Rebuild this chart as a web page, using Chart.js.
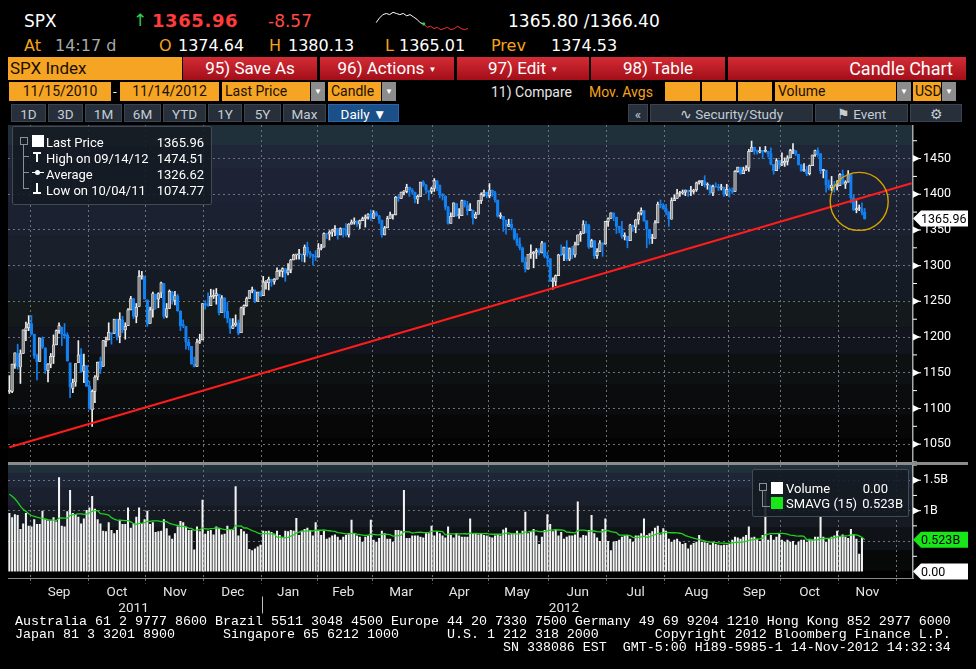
<!DOCTYPE html>
<html>
<head>
<meta charset="utf-8">
<script src="https://cdn.jsdelivr.net/npm/chart.js@4.4.0/dist/chart.umd.min.js"></script>
<style>
  body { margin: 0; width: 976px; height: 669px; background: #000; position: relative; overflow: hidden;
         font-family: Roboto, 'Liberation Sans', sans-serif; color: #fff; }
  .t { position: absolute; white-space: nowrap; line-height: 1; }
  .q { font-family: 'DejaVu Sans', sans-serif; }
  .org { color: #f5a31a; }
  .btnR { position: absolute; top: 57px; height: 23px; background: linear-gradient(#d52c36, #a20e18);
          color: #fff; font-size: 17px; line-height: 23px; text-align: center; white-space: nowrap; }
  .fld { position: absolute; top: 82px; height: 19px; background: #f6a423; color: #1b1000; font-size: 14px;
         line-height: 19px; white-space: nowrap; }
  .arr { position: absolute; top: 82px; height: 19px; width: 14px; background: #8c8c8c; color: #fff;
         font-size: 8px; line-height: 19px; text-align: center; }
  .b5 { position: absolute; top: 104px; height: 18px; background: #262f3a; color: #c4ccd4; font-size: 13.5px;
        line-height: 18px; text-align: center; border: 1px solid #3a4450; box-sizing: border-box; white-space: nowrap; }
  canvas { position: absolute; left: 0; }
  .leg { position: absolute; background: rgba(20, 26, 34, 0.88); border: 1px solid #434a53; border-radius: 2px;
         font-size: 13px; color: #fff; }
  .leg .row { position: absolute; white-space: nowrap; line-height: 15px; }
  .leg .val { position: absolute; text-align: right; line-height: 15px; }
  .ln { position: absolute; background: #8a9097; }
  pre { position: absolute; left: 15px; top: 615px; margin: 0; font-family: 'Liberation Mono', 'DejaVu Sans Mono', monospace;
        font-size: 13.33px; line-height: 13px; color: #fff; }
</style>
</head>
<body>

<!-- quote line -->
<div class="t q" style="left:24px;top:13px;font-size:17px">SPX</div>
<div class="t q" style="left:133px;top:12px;font-size:17px;color:#2fd04a">&#8593;</div>
<div class="t q" style="left:152px;top:12px;font-size:18px;font-weight:bold;color:#ff3c3c;letter-spacing:0.6px">1365.96</div>
<div class="t q" style="left:268px;top:13px;font-size:17px;color:#ff4a4a">-8.57</div>
<canvas id="spark" width="96" height="26" style="left:374px;top:8px"></canvas>
<div class="t q" style="left:508px;top:13px;font-size:17px">1365.80 /1366.40</div>

<div class="t q org" style="left:24px;top:38px;font-size:16px">At</div>
<div class="t q" style="left:55px;top:38px;font-size:16px;color:#a9a9a9">14:17 d</div>
<div class="t q org" style="left:159px;top:38px;font-size:16px">O</div>
<div class="t q" style="left:178px;top:38px;font-size:16px">1374.64</div>
<div class="t q org" style="left:269px;top:38px;font-size:16px">H</div>
<div class="t q" style="left:288px;top:38px;font-size:16px">1380.13</div>
<div class="t q org" style="left:385px;top:38px;font-size:16px">L</div>
<div class="t q" style="left:399px;top:38px;font-size:16px">1365.01</div>
<div class="t q org" style="left:491px;top:38px;font-size:16px">Prev</div>
<div class="t q" style="left:551px;top:38px;font-size:16px">1374.53</div>

<!-- function bar -->
<div class="fld" style="top:57px;height:23px;line-height:23px;left:8px;width:174px;font-size:17px;padding-left:2px;box-sizing:border-box">SPX Index</div>
<div class="btnR" style="left:183px;width:134px">95) Save As</div>
<div class="btnR" style="left:320px;width:134px">96) Actions <span style="font-size:8px;vertical-align:2px">&#9660;</span></div>
<div class="btnR" style="left:457px;width:132px">97) Edit <span style="font-size:8px;vertical-align:2px">&#9660;</span></div>
<div class="btnR" style="left:591px;width:134px">98) Table</div>
<div class="btnR" style="left:728px;width:238px;text-align:right;padding-right:13px;box-sizing:border-box;font-size:18px">Candle Chart</div>

<div class="fld" style="left:9px;width:102px;text-align:center">11/15/2010</div>
<div class="t" style="left:113px;top:85px;font-size:13px">-</div>
<div class="fld" style="left:120px;width:99px;text-align:center">11/14/2012</div>
<div class="fld" style="left:222px;width:88px;padding-left:3px;box-sizing:border-box">Last Price</div>
<div class="arr" style="left:311px">&#9660;</div>
<div class="fld" style="left:328px;width:53px;padding-left:3px;box-sizing:border-box">Candle</div>
<div class="arr" style="left:382px">&#9660;</div>
<div class="t" style="left:491px;top:85px;font-size:14px;color:#e6e6e6">11) Compare</div>
<div class="t org" style="left:589px;top:85px;font-size:14px">Mov. Avgs</div>
<div class="fld" style="left:665px;width:35px"></div>
<div class="fld" style="left:702px;width:34px"></div>
<div class="fld" style="left:738px;width:34px"></div>
<div class="fld" style="left:775px;width:121px;padding-left:3px;box-sizing:border-box">Volume</div>
<div class="arr" style="left:897px">&#9660;</div>
<div class="fld" style="left:913px;width:28px;padding-left:2px;box-sizing:border-box">USD</div>
<div class="arr" style="left:942px">&#9660;</div>

<div class="b5" style="left:11px;width:35px">1D</div>
<div class="b5" style="left:48px;width:35px">3D</div>
<div class="b5" style="left:85px;width:37px">1M</div>
<div class="b5" style="left:124px;width:37px">6M</div>
<div class="b5" style="left:163px;width:43px">YTD</div>
<div class="b5" style="left:208px;width:34px">1Y</div>
<div class="b5" style="left:244px;width:37px">5Y</div>
<div class="b5" style="left:283px;width:43px">Max</div>
<div class="b5" style="left:328px;width:71px;background:#1b4f88;color:#fff;border-color:#2a66a8">Daily &#9660;</div>
<div class="b5" style="left:628px;width:20px">&#171;</div>
<div class="b5" style="left:650px;width:163px">&#8767; Security/Study</div>
<div class="b5" style="left:815px;width:93px">&#9873; Event</div>
<div class="b5" style="left:910px;width:52px">&#9881;</div>

<canvas id="price" width="976" height="337" style="top:125px"></canvas>
<div style="position:absolute;left:8px;top:462px;width:960px;height:3px;background:#8b8b8b"></div>
<canvas id="volume" width="976" height="150" style="top:465px"></canvas>

<!-- price legend -->
<div class="leg" style="left:12px;top:126px;width:198px;height:77px">
  <div style="position:absolute;left:7px;top:10px;width:6px;height:6px;border:1px solid #8a9097"></div>
  <div class="ln" style="left:10px;top:18px;width:1px;height:44px"></div>
  <div class="ln" style="left:10px;top:29px;width:6px;height:1px"></div>
  <div class="ln" style="left:10px;top:45px;width:6px;height:1px"></div>
  <div class="ln" style="left:10px;top:61px;width:6px;height:1px"></div>
  <div style="position:absolute;left:19px;top:8px;width:12px;height:12px;background:#fff"></div>
  <div style="position:absolute;left:20px;top:25px;width:8px;height:2px;background:#fff"></div>
  <div style="position:absolute;left:23px;top:25px;width:2px;height:10px;background:#fff"></div>
  <div style="position:absolute;left:19px;top:45px;width:12px;height:1px;background:#fff"></div>
  <div style="position:absolute;left:22px;top:43px;width:5px;height:5px;border-radius:3px;background:#fff"></div>
  <div style="position:absolute;left:23px;top:56px;width:2px;height:10px;background:#fff"></div>
  <div style="position:absolute;left:20px;top:65px;width:8px;height:2px;background:#fff"></div>
  <div class="row" style="left:33px;top:8px">Last Price</div>
  <div class="row" style="left:33px;top:24px" id="lgHigh">High</div>
  <div class="row" style="left:33px;top:40px">Average</div>
  <div class="row" style="left:33px;top:56px" id="lgLow">Low</div>
  <div class="val" style="right:7px;top:8px" id="lgLast"></div>
  <div class="val" style="right:7px;top:24px" id="lgHighV"></div>
  <div class="val" style="right:7px;top:40px" id="lgAvg"></div>
  <div class="val" style="right:7px;top:56px" id="lgLowV"></div>
</div>

<!-- volume legend -->
<div class="leg" style="left:752px;top:469px;width:155px;height:46px">
  <div style="position:absolute;left:6px;top:13px;width:6px;height:6px;border:1px solid #8a9097"></div>
  <div class="ln" style="left:9px;top:21px;width:1px;height:15px"></div>
  <div class="ln" style="left:9px;top:36px;width:8px;height:1px"></div>
  <div style="position:absolute;left:18px;top:12px;width:12px;height:12px;background:#fff"></div>
  <div style="position:absolute;left:18px;top:27px;width:12px;height:12px;background:#19e619"></div>
  <div class="row" style="left:33px;top:11px">Volume</div>
  <div class="row" style="left:33px;top:26px">SMAVG (15)</div>
  <div class="val" style="right:20px;top:11px" id="lgVol"></div>
  <div class="val" style="right:5px;top:26px" id="lgSma"></div>
</div>

<pre>Australia 61 2 9777 8600 Brazil 5511 3048 4500 Europe 44 20 7330 7500 Germany 49 69 9204 1210 Hong Kong 852 2977 6000
Japan 81 3 3201 8900      Singapore 65 6212 1000      U.S. 1 212 318 2000       Copyright 2012 Bloomberg Finance L.P.
                                                             SN 338086 EST  GMT-5:00 H189-5985-1 14-Nov-2012 14:32:34</pre>

<script>
// trading calendar of the visible window
const firstDay = '2011-08-22';
const lastAxisDay = '2012-12-10';
const holidays = ['2011-09-05', '2011-11-24', '2011-12-26', '2012-01-02', '2012-01-16', '2012-02-20',
  '2012-04-06', '2012-05-28', '2012-07-04', '2012-09-03', '2012-10-29', '2012-10-30', '2012-11-22'];
const monthNames = ['Jan', 'Feb', 'Mar', 'Apr', 'May', 'Jun', 'Jul', 'Aug', 'Sep', 'Oct', 'Nov', 'Dec'];

// daily OHLC, 22 Aug 2011 .. 14 Nov 2012 (one line per month)
const opens = [
  1124,1124,1162,1177,1158,1177,1209,1213,
  1219,1204,1174,1166,1198,1185,1153,1162,1173,1189,1209,1214,1204,1203,1164,1128,1137,1164,1176,1152,1160,
  1131,1098,1124,1144,1166,1159,1194,1196,1206,1205,1225,1201,1224,1210,1216,1238,1254,1229,1243,1285,1285,
  1252,1219,1238,1260,1253,1262,1275,1229,1240,1263,1251,1257,1236,1217,1215,1193,1187,1162,1159,1193,1196,
  1247,1247,1244,1257,1258,1260,1234,1255,1236,1226,1212,1217,1220,1206,1241,1244,1254,1265,1265,1250,1263,
  1258,1277,1276,1281,1278,1281,1292,1292,1296,1290,1294,1308,1315,1315,1316,1315,1326,1318,1316,1313,
  1312,1324,1326,1345,1344,1347,1350,1352,1343,1352,1351,1343,1358,1361,1362,1358,1363,1366,1368,1372,
  1366,1374,1370,1364,1343,1353,1366,1371,1371,1396,1394,1403,1404,1410,1406,1403,1393,1397,1417,1413,1405,1404,
  1408,1419,1413,1399,1397,1382,1359,1369,1387,1370,1370,1391,1385,1377,1378,1367,1372,1391,1400,1403,
  1398,1406,1402,1392,1369,1369,1364,1355,1358,1352,1338,1331,1325,1305,1295,1316,1317,1319,1321,1318,1332,1313,
  1310,1278,1278,1286,1316,1315,1326,1309,1324,1315,1329,1343,1345,1358,1356,1326,1335,1314,1320,1332,1330,
  1362,1366,1374,1368,1355,1352,1341,1341,1335,1357,1354,1364,1373,1377,1363,1351,1338,1338,1360,1386,1385,
  1380,1375,1365,1391,1394,1401,1402,1403,1406,1404,1404,1406,1416,1418,1418,1413,1413,1402,1411,1410,1409,1410,1400,
  1407,1405,1404,1432,1438,1429,1434,1437,1460,1466,1461,1459,1461,1460,1460,1457,1442,1433,1447,
  1441,1444,1446,1451,1461,1461,1456,1441,1433,1433,1429,1440,1455,1461,1457,1433,1434,1413,1409,1413,1411,
  1412,1428,1414,1417,1428,1395,1378,1380,1380,1374.64
];
const highs = [
  1146,1162,1178,1190,1182,1210,1221,1230,
  1230,1204,1176,1198,1200,1185,1163,1177,1203,1210,1220,1214,1219,1206,1164,1141,1163,1195,1184,1176,1160,
  1138,1126,1146,1165,1172,1195,1200,1220,1206,1225,1225,1234,1229,1220,1240,1257,1254,1247,1293,1292,1285,
  1252,1242,1263,1260,1262,1277,1275,1247,1266,1264,1264,1260,1237,1224,1215,1197,1187,1172,1197,1204,1247,
  1251,1262,1267,1266,1268,1260,1258,1255,1249,1226,1226,1231,1224,1242,1245,1256,1265,1270,1266,1263,1264,
  1285,1279,1284,1281,1282,1297,1294,1297,1296,1303,1309,1316,1315,1323,1316,1329,1333,1320,1316,1321,
  1331,1330,1346,1345,1349,1351,1356,1352,1353,1352,1359,1359,1364,1367,1363,1364,1368,1371,1373,1378,
  1377,1376,1370,1364,1355,1369,1375,1372,1397,1399,1403,1405,1414,1410,1408,1403,1399,1417,1419,1414,1405,1410,
  1422,1419,1413,1401,1398,1383,1374,1388,1387,1380,1392,1391,1390,1387,1378,1375,1391,1402,1406,1403,
  1415,1406,1404,1392,1374,1369,1364,1365,1365,1352,1345,1339,1326,1312,1316,1329,1320,1324,1324,1334,1332,1319,
  1310,1283,1287,1316,1329,1326,1335,1325,1327,1333,1343,1348,1363,1362,1358,1337,1335,1324,1335,1332,1362,
  1367,1374,1374,1368,1355,1362,1346,1341,1358,1357,1365,1375,1381,1377,1363,1351,1344,1363,1389,1392,1387,
  1386,1376,1395,1399,1407,1404,1406,1406,1406,1411,1407,1417,1419,1418,1426,1416,1413,1413,1416,1414,1414,1410,1414,
  1409,1409,1433,1438,1438,1438,1440,1463,1474.51,1466,1462,1466,1461,1467,1460,1465,1442,1450,1447,
  1458,1451,1454,1463,1471,1461,1456,1442,1443,1439,1441,1455,1462,1465,1457,1435,1434,1420,1425,1418,1419,
  1429,1434,1419,1433,1428,1399,1391,1385,1388,1380.13
];
const lows = [
  1121,1122,1156,1155,1135,1177,1195,1209,
  1203,1170,1140,1166,1184,1149,1137,1157,1163,1189,1205,1188,1198,1166,1115,1122,1131,1164,1150,1136,1131,
  1099,1074.77,1108,1140,1149,1159,1187,1196,1190,1205,1196,1192,1206,1197,1216,1238,1226,1220,1243,1281,1253,
  1215,1219,1228,1239,1241,1255,1226,1227,1240,1246,1245,1236,1209,1213,1183,1182,1162,1158,1159,1191,1196,
  1239,1243,1244,1254,1246,1231,1234,1227,1220,1205,1212,1215,1203,1206,1231,1243,1254,1262,1248,1250,1257,
  1258,1267,1266,1271,1274,1281,1285,1284,1278,1287,1290,1308,1309,1309,1306,1305,1313,1311,1301,1307,
  1312,1322,1326,1338,1336,1341,1342,1337,1343,1340,1341,1340,1358,1358,1355,1352,1363,1354,1365,1363,
  1366,1369,1359,1340,1343,1353,1366,1365,1371,1390,1394,1399,1402,1397,1400,1388,1387,1397,1411,1401,1392,1401,
  1404,1405,1395,1392,1378,1358,1359,1369,1369,1366,1370,1382,1371,1377,1358,1366,1372,1387,1397,1395,
  1395,1397,1389,1368,1366,1348,1344,1355,1350,1336,1328,1322,1305,1291,1295,1310,1297,1310,1315,1318,1311,1299,
  1278,1267,1272,1286,1314,1307,1307,1307,1310,1312,1329,1334,1345,1346,1324,1326,1310,1310,1320,1313,1330,
  1355,1366,1363,1345,1346,1338,1336,1325,1335,1348,1346,1358,1371,1362,1325,1330,1331,1338,1360,1381,1379,
  1371,1355,1365,1391,1394,1397,1400,1398,1397,1398,1401,1404,1414,1412,1410,1407,1400,1398,1410,1405,1406,1397,1398,
  1396,1401,1404,1431,1428,1429,1433,1432,1460,1456,1456,1458,1450,1459,1452,1441,1428,1433,1436,
  1440,1439,1441,1451,1457,1454,1441,1432,1432,1426,1427,1440,1453,1452,1429,1423,1403,1406,1405,1403,1406,
  1412,1414,1408,1417,1388,1377,1374,1377,1371,1365.01
];
const closes = [
  1124,1162,1178,1159,1177,1210,1213,1219,
  1204,1174,1165,1199,1186,1154,1162,1173,1189,1209,1216,1204,1202,1167,1130,1136,1163,1175,1151,1160,1131,
  1099,1124,1144,1165,1155,1195,1196,1207,1204,1225,1201,1225,1210,1215,1238,1254,1229,1242,1285,1285,1253,
  1218,1238,1261,1253,1261,1276,1229,1240,1264,1252,1258,1237,1216,1216,1193,1188,1162,1159,1193,1195,1247,
  1245,1244,1257,1258,1261,1234,1255,1236,1226,1212,1216,1220,1205,1241,1244,1254,1265,1265,1250,1263,1258,
  1277,1277,1281,1278,1281,1292,1292,1296,1289,1294,1308,1315,1315,1316,1315,1326,1318,1316,1313,1312,
  1324,1326,1345,1344,1347,1350,1352,1343,1352,1351,1343,1358,1361,1362,1358,1363,1366,1368,1372,1366,
  1374,1370,1364,1343,1353,1366,1371,1371,1396,1394,1403,1404,1410,1406,1403,1393,1397,1417,1413,1406,1403,1408,
  1419,1413,1399,1398,1382,1359,1369,1388,1370,1370,1391,1385,1377,1379,1367,1372,1391,1400,1403,1398,
  1406,1402,1392,1369,1370,1364,1355,1358,1353,1338,1331,1325,1305,1295,1316,1317,1319,1321,1318,1332,1313,1310,
  1278,1278,1286,1315,1315,1326,1309,1324,1315,1329,1343,1345,1358,1356,1326,1335,1314,1320,1332,1329,1362,
  1366,1374,1368,1355,1352,1341,1341,1335,1357,1354,1364,1373,1377,1363,1351,1338,1338,1360,1386,1385,1379,
  1375,1365,1391,1394,1401,1402,1403,1406,1404,1404,1406,1416,1418,1418,1413,1413,1402,1411,1410,1409,1410,1399,1407,
  1405,1403,1432,1438,1429,1434,1437,1460,1466,1461,1459,1461,1460,1460,1457,1442,1433,1447,1441,
  1444,1446,1451,1461,1461,1456,1441,1433,1433,1429,1440,1455,1461,1457,1433,1434,1413,1409,1413,1412,1412,
  1428,1414,1417,1428,1395,1378,1380,1380,1374.53,1365.96
];

// volume in billions, same days; volumeBefore = the 14 sessions ahead of the window (feeds the 15d average)
const volumeBefore = [1.40,1.55,1.75,1.70,1.60,1.45,1.35,1.16,1.05,1.00,0.95,1.10,1.04,1.00];
const volumes = [
  0.96,0.89,0.94,0.93,0.70,0.79,0.96,0.75,
  0.74,0.86,0.78,0.78,1.00,0.86,0.84,0.84,0.89,0.82,1.55,0.75,0.74,0.99,1.34,0.96,0.94,0.90,0.79,0.87,1.01,
  1.05,1.24,1.03,0.86,0.79,0.67,0.66,0.81,0.68,0.63,0.68,0.85,0.78,0.78,1.05,0.72,0.79,0.90,1.05,0.79,0.86,
  1.00,0.78,0.81,0.65,0.66,0.67,0.86,0.71,0.59,0.54,0.63,0.74,0.83,0.81,0.74,0.68,0.68,0.36,0.74,0.66,1.18,
  0.62,0.67,0.68,0.61,0.74,0.71,0.61,0.62,0.75,0.68,0.68,1.40,0.59,0.70,0.66,0.62,0.37,0.35,0.38,0.41,0.44,
  0.67,0.66,0.67,0.65,0.62,0.67,0.60,0.57,0.67,0.66,0.68,0.67,0.88,0.60,0.67,0.70,0.72,0.68,0.59,0.81,
  0.67,0.60,0.67,0.54,0.56,0.59,0.61,0.57,0.52,0.57,0.60,0.63,0.85,0.63,0.59,0.57,0.49,0.57,0.59,0.85,
  0.52,0.49,0.55,0.67,0.63,0.54,0.54,0.49,0.68,0.68,0.67,1.34,0.55,0.55,0.59,0.59,0.59,0.57,0.56,0.63,0.63,0.75,
  0.59,0.66,0.63,0.59,0.56,0.74,0.60,0.56,0.63,0.59,0.57,0.57,0.57,0.87,0.63,0.63,0.61,0.63,0.60,0.59,
  0.57,0.56,0.59,0.60,0.59,0.69,0.72,0.61,0.63,0.63,0.67,0.63,0.67,0.98,0.63,0.66,0.70,0.59,0.45,0.57,0.68,0.94,
  0.78,0.66,0.70,0.59,0.65,0.54,0.57,0.59,0.59,0.61,1.15,0.56,0.60,0.59,0.68,0.93,0.63,0.56,0.50,0.70,0.87,
  0.50,0.35,0.49,0.50,0.52,0.57,0.59,0.60,0.54,0.49,0.59,0.59,0.63,0.87,0.60,0.63,0.66,0.72,0.75,0.61,0.71,
  0.67,0.54,0.49,0.52,0.54,0.49,0.45,0.47,0.38,0.44,0.47,0.49,0.60,0.49,0.48,0.47,0.44,0.48,0.45,0.44,0.43,0.44,0.44,
  0.45,0.52,0.57,0.56,0.54,0.57,0.60,0.74,0.56,0.57,0.54,0.50,0.60,1.35,0.52,0.60,0.52,0.57,0.63,
  0.52,0.49,0.52,0.49,0.50,0.44,0.49,0.52,0.52,0.49,0.54,0.52,0.57,0.57,0.90,0.57,0.49,0.55,0.57,0.59,0.67,
  0.57,0.61,0.57,0.55,0.70,0.60,0.54,0.29,0.55,0
];

const averagePrice = 1326.62;          // 2y average, from the legend
const trendLine = [1045.6, 1415.4];     // red support line at the first and last axis day
const circleAt = {date: '2012-11-12', price: 1390};

// intraday sparkline in the quote line
const sparkPrices = [1371,1375,1378,1379,1378,1380,1379,1378,1379,1377,1378,1376,1374,1371,1370,
  1367,1368,1366,1367,1365,1366,1367,1365,1366,1368,1366,1365,1366];
const sparkSplit = 14;

const priceTicks = {min: 1025, max: 1497, step: 25, labelEvery: 50};
const volumeTicks = {min: -0.115, max: 1.75, step: 0.25};

// ---------------------------------------------------------------------------

function tradingDays(from, to, skip) {
  const out = [];
  const d = new Date(from + 'T12:00:00Z');
  const end = new Date(to + 'T12:00:00Z');
  while (d <= end) {
    const wd = d.getUTCDay();
    const iso = d.toISOString().slice(0, 10);
    if (wd !== 0 && wd !== 6 && !skip.includes(iso)) out.push(iso);
    d.setUTCDate(d.getUTCDate() + 1);
  }
  return out;
}

const dates = tradingDays(firstDay, lastAxisDay, holidays);
const N = closes.length;

const monthStart = dates.map((d, i) => i > 0 && d.slice(0, 7) !== dates[i - 1].slice(0, 7));

// x tick labels: month name mid-month, year mid-way through its data
const xTickLabels = dates.map(() => '');
const groups = {};
dates.forEach((d, i) => { (groups[d.slice(0, 7)] = groups[d.slice(0, 7)] || []).push(i); });
Object.entries(groups).forEach(([key, idx]) => {
  if (idx.length < 10) return;
  const mid = Math.floor((idx[0] + idx[idx.length - 1]) / 2);
  xTickLabels[mid] = [monthNames[+key.slice(5, 7) - 1]];
});
const years = {};
dates.slice(0, N).forEach((d, i) => { (years[d.slice(0, 4)] = years[d.slice(0, 4)] || []).push(i); });
Object.entries(years).forEach(([y, idx]) => {
  const mid = Math.floor((idx[0] + idx[idx.length - 1]) / 2);
  xTickLabels[mid] = ['', y];
});

const sma = volumes.map((v, i) => {
  const all = volumeBefore.concat(volumes);
  const end = i + volumeBefore.length;
  let s = 0;
  for (let k = end - 14; k <= end; k++) s += all[k];
  return s / 15;
});

function fmtDate(iso) {
  return iso.slice(5, 7) + '/' + iso.slice(8, 10) + '/' + iso.slice(2, 4);
}

// legends
const hiIdx = highs.indexOf(Math.max(...highs));
const loIdx = lows.indexOf(Math.min(...lows));
document.getElementById('lgLast').textContent = closes[N - 1].toFixed(2);
document.getElementById('lgHigh').textContent = 'High on ' + fmtDate(dates[hiIdx]);
document.getElementById('lgHighV').textContent = highs[hiIdx].toFixed(2);
document.getElementById('lgAvg').textContent = averagePrice.toFixed(2);
document.getElementById('lgLow').textContent = 'Low on ' + fmtDate(dates[loIdx]);
document.getElementById('lgLowV').textContent = lows[loIdx].toFixed(2);
document.getElementById('lgVol').textContent = volumes[N - 1].toFixed(2);
document.getElementById('lgSma').textContent = sma[N - 1].toFixed(3) + 'B';

Chart.defaults.font.family = 'Roboto, "Liberation Sans", sans-serif';

const UP_FILL = '#8e8e8e';
const UP_EDGE = '#f4f4f4';
const DOWN = '#1380f0';
const GRID = '#6c7378';

const monthLine = ctx => (monthStart[ctx.index] ? GRID : 'transparent');
const noPad = s => { s.paddingTop = 0; s.paddingBottom = 0; };

const bands = {
  id: 'bands',
  beforeDraw(chart, args, opts) {
    const {ctx, chartArea: a} = chart;
    const h = a.bottom - a.top;
    ctx.save();
    opts.colors.forEach((c, i) => {
      ctx.fillStyle = c;
      const y0 = a.top + h * opts.stops[i];
      const y1 = a.top + h * opts.stops[i + 1];
      ctx.fillRect(a.left, y0, a.right - a.left, y1 - y0 + 0.5);
    });
    ctx.restore();
  }
};

function marker(ctx, x, y) {
  ctx.beginPath();
  ctx.moveTo(x, y - 3.5);
  ctx.lineTo(x + 7, y);
  ctx.lineTo(x, y + 3.5);
  ctx.closePath();
  ctx.fill();
  ctx.fillRect(x, y - 0.5, 8, 1);
}

function tag(ctx, x, y, text, fill) {
  ctx.save();
  ctx.fillStyle = fill;
  ctx.beginPath();
  ctx.moveTo(x, y);
  ctx.lineTo(x + 8, y - 8);
  ctx.lineTo(x + 55, y - 8);
  ctx.lineTo(x + 55, y + 8);
  ctx.lineTo(x + 8, y + 8);
  ctx.closePath();
  ctx.fill();
  ctx.fillStyle = '#000';
  ctx.font = '12.5px Roboto, "Liberation Sans", sans-serif';
  ctx.textBaseline = 'middle';
  ctx.fillText(text, x + 8, y + 1);
  ctx.restore();
}

const priceAxisDecor = {
  id: 'priceAxisDecor',
  afterDraw(chart) {
    const {ctx, chartArea: a, scales: {x, y}} = chart;
    ctx.save();
    ctx.fillStyle = '#a4a9ae';
    ctx.fillRect(a.right - 1, a.top, 1.5, a.bottom - a.top);
    ctx.fillStyle = '#fff';
    y.ticks.forEach(t => {
      if (t.value % priceTicks.step !== 0) return;
      const py = y.getPixelForValue(t.value);
      if (t.value % priceTicks.labelEvery === 0) marker(ctx, a.right, py);
      else ctx.fillRect(a.right, py - 0.5, 4, 1);
    });
    // highlight circle
    ctx.strokeStyle = '#d8a300';
    ctx.lineWidth = 1.4;
    ctx.beginPath();
    ctx.arc(x.getPixelForValue(dates.indexOf(circleAt.date)), y.getPixelForValue(circleAt.price), 29, 0, Math.PI * 2);
    ctx.stroke();
    ctx.restore();
    tag(ctx, a.right, y.getPixelForValue(closes[N - 1]), closes[N - 1].toFixed(2), '#ffffff');
  }
};

const volumeAxisDecor = {
  id: 'volumeAxisDecor',
  afterDraw(chart) {
    const {ctx, chartArea: a, scales: {x, y}} = chart;
    ctx.save();
    ctx.fillStyle = '#a4a9ae';
    ctx.fillRect(a.right - 1, a.top, 1.5, a.bottom - a.top);
    ctx.fillStyle = '#fff';
    y.ticks.forEach(t => {
      const v = Math.round(t.value * 100) / 100;
      if (v <= 0 || v * 4 % 1 !== 0) return;
      const py = y.getPixelForValue(v);
      if (v === 1 || v === 1.5) marker(ctx, a.right, py);
      else if (v !== 0.5) ctx.fillRect(a.right, py - 0.5, 4, 1);
    });
    // year separator under the axis
    const jan = dates.findIndex((d, i) => i > 0 && d.slice(0, 4) !== dates[i - 1].slice(0, 4));
    const sx = (x.getPixelForValue(jan - 1) + x.getPixelForValue(jan)) / 2;
    ctx.fillStyle = '#bdbdbd';
    ctx.fillRect(Math.round(sx), a.bottom + 18, 1, 17);
    ctx.restore();
    tag(ctx, a.right, y.getPixelForValue(sma[N - 1]), sma[N - 1].toFixed(3) + 'B', '#19e619');
    tag(ctx, a.right, y.getPixelForValue(volumes[N - 1]), volumes[N - 1].toFixed(2), '#ffffff');
  }
};

const wickData = dates.map((d, i) => (i < N ? [lows[i], highs[i]] : null));
const bodyData = dates.map((d, i) => (i < N ? [opens[i], closes[i]] : null));
const down = i => i < N && closes[i] < opens[i];

new Chart(document.getElementById('price'), {
  type: 'bar',
  data: {
    labels: dates,
    datasets: [
      {
        type: 'line',
        data: [{x: dates[0], y: trendLine[0]}, {x: dates[dates.length - 1], y: trendLine[1]}],
        borderColor: '#ff1c1c',
        borderWidth: 2,
        pointRadius: 0,
        order: 0
      },
      {
        data: bodyData,
        grouped: false,
        barThickness: 2.7,
        minBarLength: 1,
        backgroundColor: ctx => (down(ctx.dataIndex) ? DOWN : UP_FILL),
        borderColor: ctx => (down(ctx.dataIndex) ? DOWN : UP_EDGE),
        borderWidth: 0.7,
        borderSkipped: false,
        order: 1
      },
      {
        data: wickData,
        grouped: false,
        barThickness: 1,
        backgroundColor: ctx => (down(ctx.dataIndex) ? DOWN : '#f0f0f0'),
        order: 2
      }
    ]
  },
  options: {
    responsive: false,
    animation: false,
    devicePixelRatio: 1,
    layout: {padding: {left: 8, right: 0, top: 0, bottom: 0}},
    plugins: {
      legend: {display: false},
      tooltip: {enabled: false},
      bands: {
        stops: [0, 0.06, 0.13, 0.23, 0.33, 0.43, 0.52, 0.6, 0.68, 0.77, 0.86, 0.93, 1],
        colors: ['#20303a', '#1f2638', '#1d2334', '#1b2130', '#19202b', '#151b25', '#141a1b', '#12151e',
          '#0e1112', '#0b0c0e', '#070707', '#030303']
      }
    },
    scales: {
      x: {
        afterFit: s => { s.height = 0; },
        ticks: {display: false},
        grid: {color: monthLine, drawTicks: false, offset: true, lineWidth: 1},
        border: {display: false, dash: [2, 3]}
      },
      y: {
        position: 'right',
        min: priceTicks.min,
        max: priceTicks.max,
        afterFit: s => { s.width = 63; noPad(s); },
        ticks: {
          stepSize: priceTicks.step,
          autoSkip: false,
          color: '#ffffff',
          padding: 10,
          font: {size: 12.5},
          callback: v => (v % priceTicks.labelEvery === 0 ? String(v) : '')
        },
        grid: {
          color: ctx => (ctx.tick && ctx.tick.value % priceTicks.labelEvery === 0 ? GRID : 'transparent'),
          drawTicks: false
        },
        border: {display: false, dash: [2, 3]}
      }
    }
  },
  plugins: [bands, priceAxisDecor]
});

new Chart(document.getElementById('volume'), {
  type: 'bar',
  data: {
    labels: dates,
    datasets: [
      {
        type: 'line',
        data: sma,
        borderColor: '#1fd21f',
        borderWidth: 1.3,
        pointRadius: 0,
        order: 0
      },
      {
        data: volumes,
        backgroundColor: '#f4f4f4',
        barPercentage: 0.74,
        categoryPercentage: 1,
        order: 1
      }
    ]
  },
  options: {
    responsive: false,
    animation: false,
    devicePixelRatio: 1,
    layout: {padding: {left: 8, right: 0, top: 0, bottom: 0}},
    plugins: {
      legend: {display: false},
      tooltip: {enabled: false},
      bands: {
        stops: [0, 0.07, 0.2, 0.36, 0.55, 0.75, 0.93, 1],
        colors: ['#20303a', '#1e2537', '#1a202d', '#151a23', '#0f1216', '#070808', '#000000']
      }
    },
    scales: {
      x: {
        afterFit: s => { s.height = 36.5; },
        ticks: {
          autoSkip: false,
          maxRotation: 0,
          color: '#e4e4e4',
          padding: 1,
          font: {size: 13.5, lineHeight: 1.2},
          callback: (v, i) => xTickLabels[i]
        },
        grid: {color: monthLine, tickColor: monthLine, tickLength: 5, offset: true, tickBorderDash: [2, 2]},
        border: {display: true, color: '#8a8a8a', width: 1, dash: [2, 3]}
      },
      y: {
        position: 'right',
        min: volumeTicks.min,
        max: volumeTicks.max,
        afterFit: s => { s.width = 63; noPad(s); },
        ticks: {
          stepSize: volumeTicks.step,
          autoSkip: false,
          color: '#ffffff',
          padding: 10,
          font: {size: 12.5},
          callback: v => (Math.abs(v - 1.5) < 1e-6 ? '1.5B' : Math.abs(v - 1) < 1e-6 ? '1B' : '')
        },
        grid: {
          color: ctx => {
            const v = ctx.tick ? ctx.tick.value : -1;
            return v >= -1e-6 && Math.abs(v * 2 - Math.round(v * 2)) < 1e-6 ? GRID : 'transparent';
          },
          drawTicks: false
        },
        border: {display: false, dash: [2, 3]}
      }
    }
  },
  plugins: [bands, volumeAxisDecor]
});

// intraday sparkline
new Chart(document.getElementById('spark'), {
  type: 'line',
  data: {
    labels: sparkPrices.map((p, i) => i),
    datasets: [{
      data: sparkPrices,
      borderWidth: 1,
      borderColor: '#ffffff',
      segment: {borderColor: ctx => (ctx.p0DataIndex >= sparkSplit ? '#ff3030' : '#ffffff')},
      pointRadius: ctx => (ctx.dataIndex === sparkSplit ? 1.6 : 0),
      pointBackgroundColor: '#2fd04a',
      pointBorderWidth: 0
    }]
  },
  options: {
    responsive: false,
    animation: false,
    devicePixelRatio: 1,
    layout: {padding: 2},
    plugins: {legend: {display: false}, tooltip: {enabled: false}},
    scales: {x: {display: false}, y: {display: false, min: 1363, max: 1382}}
  }
});
</script>
</body>
</html>
